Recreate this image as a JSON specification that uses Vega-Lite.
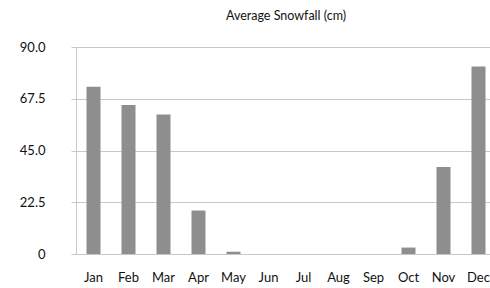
{
  "$schema": "https://vega.github.io/schema/vega-lite/v6.json",
  "autosize": "none",
  "padding": {"left": 76, "top": 47, "right": 0, "bottom": 34},
  "width": 420,
  "height": 207,
  "background": "white",
  "title": {"text": "Average Snowfall (cm)", "fontSize": 12.5, "font": "Lato", "fontWeight": "normal", "color": "#111", "anchor": "middle", "offset": 19},
  "data": {"values": [
    {"month": "Jan", "snow": 72.7},
    {"month": "Feb", "snow": 64.8},
    {"month": "Mar", "snow": 60.6},
    {"month": "Apr", "snow": 18.9},
    {"month": "May", "snow": 1.0},
    {"month": "Jun", "snow": 0},
    {"month": "Jul", "snow": 0},
    {"month": "Aug", "snow": 0},
    {"month": "Sep", "snow": 0},
    {"month": "Oct", "snow": 2.8},
    {"month": "Nov", "snow": 37.8},
    {"month": "Dec", "snow": 81.5}
  ]},
  "mark": {"type": "bar", "color": "#8e8e8e"},
  "encoding": {
    "x": {"field": "month", "type": "nominal", "sort": null,
      "scale": {"paddingInner": 0.6, "paddingOuter": 0.3},
      "axis": {"title": null, "labelAngle": 0, "labelFont": "Lato", "labelFontSize": 13, "labelColor": "#111", "labelPadding": 17, "ticks": false, "domainColor": "#c8c8c8", "grid": false}},
    "y": {"field": "snow", "type": "quantitative",
      "scale": {"domain": [0, 90], "nice": false},
      "axis": {"title": null, "values": [0, 22.5, 45, 67.5, 90], "labelExpr": "datum.value == 0 ? '0' : format(datum.value, '.1f')", "labelFont": "Lato", "labelFontSize": 13, "labelColor": "#111", "labelPadding": 26, "tickSize": 5, "tickColor": "#c8c8c8", "gridColor": "#c8c8c8", "domainColor": "#c8c8c8"}}
  },
  "config": {"view": {"stroke": null}}
}
